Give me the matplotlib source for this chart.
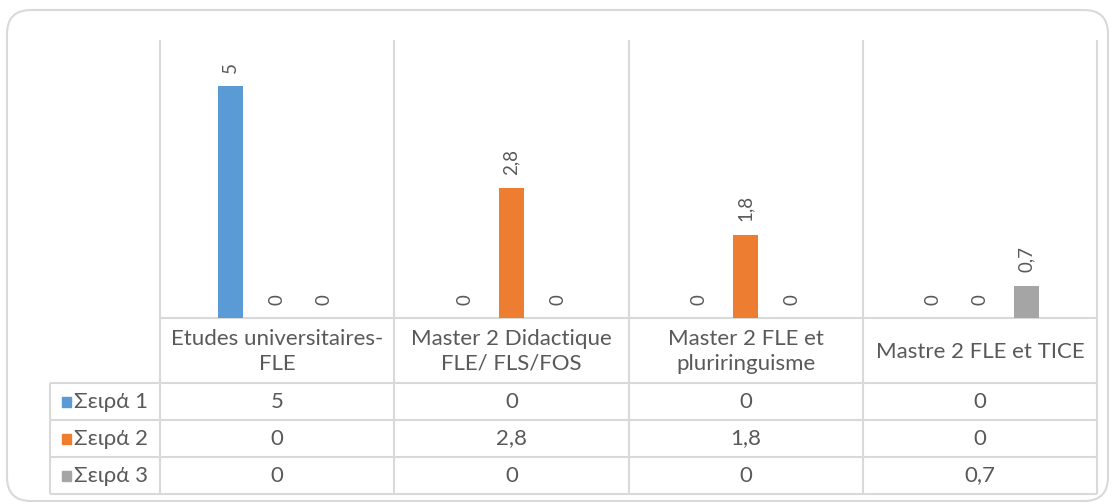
import matplotlib
matplotlib.use('Agg')
import matplotlib.pyplot as plt
from matplotlib.patches import FancyBboxPatch, Rectangle
from matplotlib.transforms import IdentityTransform
import numpy as np

categories = ['Etudes universitaires-\nFLE', 'Master 2 Didactique\nFLE/ FLS/FOS',
              'Master 2 FLE et\npluriringuisme', 'Mastre 2 FLE et TICE']
series_names = ['Σειρά 1', 'Σειρά 2', 'Σειρά 3']
serie1 = [5, 0, 0, 0]
serie2 = [0, 2.8, 1.8, 0]
serie3 = [0, 0, 0, 0.7]

COLORS = ['#5B9BD5', '#ED7D31', '#A5A5A5']
TEXT = '#595959'
GRID = '#d9d9d9'
FONT = ['Lato', 'Open Sans', 'DejaVu Sans']


def fmt(v):
    return ('%g' % v).replace('.', ',')


W, H = 1115, 504
fig = plt.figure(figsize=(W / 100, H / 100), dpi=100)


def box(x0, y0, x1, y1):
    # pixel box measured from the top-left corner -> figure fraction
    return [x0 / W, 1 - y1 / H, (x1 - x0) / W, (y1 - y0) / H]


# grid + data table underneath (x in category units, y in pixels)
cat_w = (1097 - 160) / 4
left = -0.5 - 110 / cat_w
tax = fig.add_axes(box(50, 40, 1097, 494))
tax.set_xlim(left, 3.5)
tax.set_ylim(494, 40)
tax.axis('off')

kw = dict(color=GRID, lw=1.5, clip_on=False, solid_capstyle='butt')
for xv in np.arange(-0.5, 4, 1):
    tax.plot([xv, xv], [40, 494], **kw)
tax.plot([left, left], [383, 494], **kw)
tax.plot([-0.5, 3.5], [318, 318], **kw)
for yv in [383, 420, 457, 494]:
    tax.plot([left, 3.5], [yv, yv], **kw)

for i, cat in enumerate(categories):
    tax.text(i, 351.5, cat, ha='center', va='center', fontsize=16,
             color=TEXT, family=FONT, linespacing=1.3)

values = [serie1, serie2, serie3]
row_mid = [401.5, 438.5, 475.5]
for r, (name, vals) in enumerate(zip(series_names, values)):
    tax.add_patch(Rectangle((left + 12 / cat_w, row_mid[r] - 5), 9 / cat_w, 10,
                            color=COLORS[r], clip_on=False))
    tax.text(left + 24 / cat_w, row_mid[r], name, ha='left', va='center',
             fontsize=16, color=TEXT, family=FONT)
    for i, v in enumerate(vals):
        tax.text(i, row_mid[r], fmt(v), ha='center', va='center',
                 fontsize=16, color=TEXT, family=FONT)

# bars
ax = fig.add_axes(box(160, 40, 1097, 318))
ax.patch.set_alpha(0)
x = np.arange(len(categories))
width = 0.107
for i, vals in enumerate(values):
    bars = ax.bar(x + (i - 1) * 0.2, vals, width, color=COLORS[i])
    for b, v in zip(bars, vals):
        ax.annotate(fmt(v), (b.get_x() + b.get_width() / 2, v), xytext=(0, 9.5),
                    textcoords='offset points', rotation=90, ha='center',
                    va='bottom', fontsize=13.5, color=TEXT, family=FONT)
ax.set_xlim(-0.5, 3.5)
ax.set_ylim(0, 6)
ax.axis('off')

# rounded chart border
frame = FancyBboxPatch((7, 3), 1101, 491, boxstyle='round,pad=0,rounding_size=24',
                       transform=IdentityTransform(), fill=False, ec=GRID, lw=1.5)
fig.patches.append(frame)

fig.savefig('out.png', dpi=100)
